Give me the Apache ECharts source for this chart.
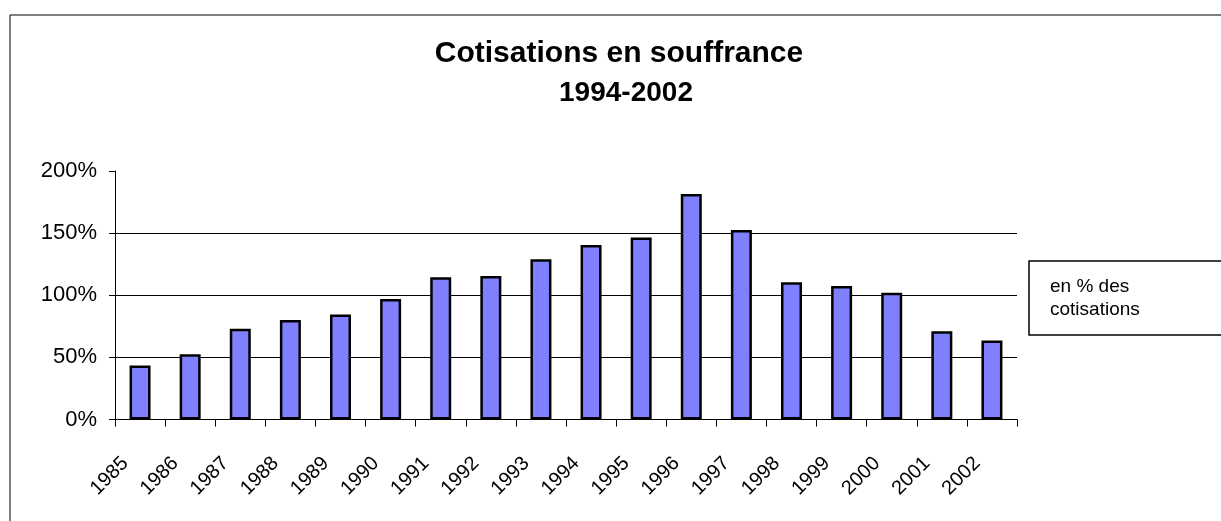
<!DOCTYPE html>
<html>
<head>
<meta charset="utf-8">
<script src="https://cdn.jsdelivr.net/npm/echarts@6/dist/echarts.min.js"></script>
<style>
html,body{margin:0;padding:0;background:#fff;}
#chart{width:1221px;height:521px;}
</style>
</head>
<body>
<div id="chart"></div>
<script>
var titleLine1 = 'Cotisations en souffrance';
var titleLine2 = '1994-2002';
var seriesName = 'en % des cotisations';
var legendLines = ['en % des', 'cotisations'];
var years = ['1985','1986','1987','1988','1989','1990','1991','1992','1993','1994','1995','1996','1997','1998','1999','2000','2001','2002'];
var values = [43.5, 52.5, 73, 80, 84.5, 97, 114.5, 115.5, 129, 140.5, 146.5, 181.5, 152.5, 110.5, 107.5, 102, 71, 63.5];
var yMin = 0, yMax = 200, yStep = 50;

var FONT = '"Liberation Sans", Arial, sans-serif';
var chart = echarts.init(document.getElementById('chart'), null, {renderer: 'canvas'});
chart.setOption({
  backgroundColor: '#fff',
  animation: false,
  graphic: [{
    type: 'rect', z: -10, silent: true,
    shape: {x: 10, y: 15, width: 1400, height: 800},
    style: {fill: 'none', stroke: '#000', lineWidth: 1}
  }],
  title: [{
    text: titleLine1,
    left: 619, top: 37, textAlign: 'center', padding: 0,
    textStyle: {fontFamily: FONT, fontSize: 30, fontWeight: 'bold', color: '#000', lineHeight: 34}
  }, {
    text: titleLine2,
    left: 626, top: 78, textAlign: 'center', padding: 0,
    textStyle: {fontFamily: FONT, fontSize: 28, fontWeight: 'bold', color: '#000', lineHeight: 30}
  }],
  legend: {
    data: [seriesName],
    orient: 'vertical',
    left: 1029, top: 261,
    padding: [14, 300, 14, 16],
    borderColor: '#000', borderWidth: 1.5,
    icon: 'none', itemWidth: 0, itemHeight: 0,
    formatter: function () { return legendLines.join('\n'); },
    textStyle: {fontFamily: FONT, fontSize: 19, color: '#000', lineHeight: 23}
  },
  grid: {left: 115, right: 204, top: 171, bottom: 101.5, containLabel: false},
  xAxis: {
    type: 'category',
    data: years,
    boundaryGap: true,
    axisLine: {lineStyle: {color: '#000', width: 1}},
    axisTick: {show: true, alignWithLabel: false, length: 7, lineStyle: {color: '#000'}},
    axisLabel: {rotate: 45, margin: 26, padding: [0, 21, 0, 0], interval: 0, fontFamily: FONT, fontSize: 20, color: '#000'},
    splitLine: {show: false}
  },
  yAxis: {
    type: 'value',
    min: yMin, max: yMax, interval: yStep,
    axisLine: {show: true, lineStyle: {color: '#000', width: 1}},
    axisTick: {show: true, length: 6, lineStyle: {color: '#000'}},
    axisLabel: {formatter: '{value}%', margin: 18, fontFamily: FONT, fontSize: 22, color: '#000'},
    splitLine: {show: true, showMaxLine: false, lineStyle: {color: '#000', width: 1}}
  },
  series: [{
    name: seriesName,
    type: 'bar',
    data: values,
    barWidth: 21,
    itemStyle: {color: '#8080ff', borderColor: '#000', borderWidth: 2.5}
  }]
});
</script>
</body>
</html>
